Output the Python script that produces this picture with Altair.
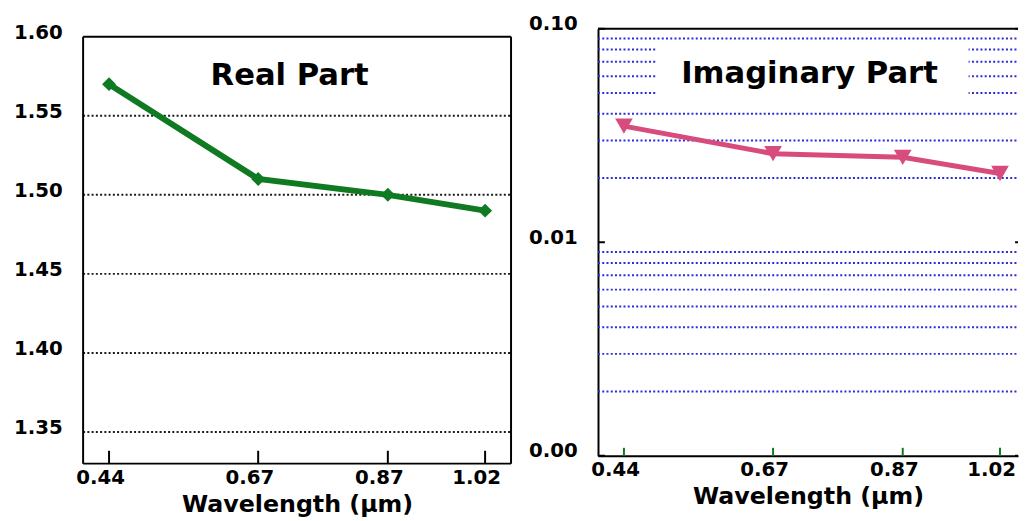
import altair as alt
import pandas as pd

# ---- data ----
wavelength = [0.44, 0.67, 0.87, 1.02]
real_part = [1.57, 1.51, 1.50, 1.49]
imag_part = [0.035, 0.026, 0.025, 0.021]
x_ticks = [0.44, 0.67, 0.87, 1.02]
real_y_ticks = [1.35, 1.40, 1.45, 1.50, 1.55, 1.60]
real_grid = [1.35, 1.40, 1.45, 1.50, 1.55]
real_top = [1.60]
imag_y_labels = [0.001, 0.01, 0.1]
imag_grid = [0.002, 0.003, 0.004, 0.005, 0.006, 0.007, 0.008, 0.009,
             0.02, 0.03, 0.04, 0.05, 0.06, 0.07, 0.08, 0.09]
titles = ["Real Part", "Imaginary Part"]
x_title = "Wavelength (μm)"

# ---- styling ----
FONT = "DejaVu Sans"
GREEN = "#0f7a22"
PINK = "#d84c7d"
BLUE = "#2b2bdc"
H_R = 432          # right plot height
OFF = 8            # left box sits 8px lower than the right one
H_L = H_R + OFF    # left panel height (box occupies bottom 432px)
W_L = 433
PX_PER_UNIT = 433 / 0.66
W_R = 425

df_real = pd.DataFrame({"w": wavelength, "v": real_part})
df_imag = pd.DataFrame({"w": wavelength, "v": imag_part})
df_xt = pd.DataFrame({"w": x_ticks})
df_rg = pd.DataFrame({"y": real_grid})
df_rt = pd.DataFrame({"y": real_top})
df_iyl = pd.DataFrame({"y": imag_y_labels})
df_ig = pd.DataFrame({"y": imag_grid})
df_one = pd.DataFrame({"k": [0]})

lab = dict(labelFont=FONT, labelFontSize=20, labelFontWeight="bold", labelColor="black")
ttl = dict(title=x_title, titleFont=FONT, titleFontSize=24, titleFontWeight="bold",
           titleColor="black", titlePadding=5)

# ---------- left panel ----------
xs_L = alt.Scale(domain=[0.40, 1.06], nice=False, zero=False)
ys_L = alt.Scale(domain=[1.33, 1.60 + OFF / 1600.0], nice=False, zero=False)
xax_L = alt.Axis(values=x_ticks, format=".2f", ticks=False, grid=False, domain=False,
                 labelOffset=-9, labelPadding=4, **lab, **ttl)
yax_L = alt.Axis(values=real_y_ticks, format=".2f", ticks=False, grid=False, domain=False,
                 labelPadding=21, labelOffset=-4, title="", **lab)

grid_L = alt.Chart(df_rg).mark_rule(color="#1a1a1a", strokeWidth=2, strokeDash=[2, 2.3]).encode(
    y=alt.Y("y:Q", scale=ys_L, axis=yax_L), x=alt.value(0), x2=alt.value(W_L))
top_L = alt.Chart(df_rt).mark_rule(color="black", strokeWidth=2).encode(
    y=alt.Y("y:Q", scale=ys_L, axis=yax_L), x=alt.value(0), x2=alt.value(W_L))
sides_L = alt.Chart(pd.DataFrame({"xp": [0, W_L]})).mark_rule(color="black", strokeWidth=2).encode(
    x=alt.X("xp:Q", scale=None), y=alt.value(OFF), y2=alt.value(H_L))
bottom_L = alt.Chart(df_one).mark_rule(color="black", strokeWidth=2).encode(
    y=alt.value(H_L), x=alt.value(0), x2=alt.value(W_L))
ticks_L = alt.Chart(df_xt).mark_rule(color="black", strokeWidth=2).encode(
    x=alt.X("w:Q", scale=xs_L, axis=xax_L), y=alt.value(H_L), y2=alt.value(H_L - 13))
line_L = alt.Chart(df_real).mark_line(
    color=GREEN, strokeWidth=6,
    point=alt.OverlayMarkDef(shape="diamond", size=200, filled=True, color=GREEN, opacity=1)
).encode(x=alt.X("w:Q", scale=xs_L, axis=xax_L), y=alt.Y("v:Q", scale=ys_L, axis=yax_L))
title_L = alt.Chart(pd.DataFrame({"t": [titles[0]]})).mark_text(
    font=FONT, fontSize=31, fontWeight="bold", color="black", align="center",
    baseline="alphabetic").encode(text="t:N", x=alt.value(209), y=alt.value(57))

left = alt.layer(grid_L, top_L, sides_L, bottom_L, ticks_L, line_L, title_L).properties(
    width=W_L, height=H_L)

# ---------- right panel ----------
xs_R = alt.Scale(domain=[0.40, 0.40 + W_R / PX_PER_UNIT], nice=False, zero=False)
ys_R = alt.Scale(type="log", domain=[0.001, 0.1], nice=False)
xax_R = alt.Axis(values=x_ticks, format=".2f", ticks=False, grid=False, domain=True,
                 domainColor="black", domainWidth=2,
                 labelOffset=-9, labelPadding=4, **lab, **ttl)
yax_R = alt.Axis(values=imag_y_labels, format=".2f", ticks=False, grid=False, domain=True,
                 domainColor="black", domainWidth=2,
                 labelPadding=21, labelOffset=-5, title="", **lab)

grid_R = alt.Chart(df_ig).mark_rule(color=BLUE, strokeWidth=2, strokeDash=[2, 2.3]).encode(
    y=alt.Y("y:Q", scale=ys_R, axis=yax_R), x=alt.value(0), x2=alt.value(W_R))
box_R = alt.Chart(df_one).mark_rect(fill="white").encode(
    x=alt.value(59), x2=alt.value(375), y=alt.value(13), y2=alt.value(75))
line_R = alt.Chart(df_imag).mark_line(
    color=PINK, strokeWidth=5,
    point=alt.OverlayMarkDef(shape="triangle-down", size=320, filled=True, color=PINK, opacity=1)
).encode(x=alt.X("w:Q", scale=xs_R, axis=xax_R), y=alt.Y("v:Q", scale=ys_R, axis=yax_R))
title_R = alt.Chart(pd.DataFrame({"t": [titles[1]]})).mark_text(
    font=FONT, fontSize=31, fontWeight="bold", color="black", align="center",
    baseline="alphabetic").encode(text="t:N", x=alt.value(214), y=alt.value(55))
xticks_R = alt.Chart(df_xt).mark_rule(color=GREEN, strokeWidth=2).encode(
    x=alt.X("w:Q", scale=xs_R, axis=xax_R), y=alt.value(H_R), y2=alt.value(H_R - 8))
yticks_R = alt.Chart(df_iyl).mark_rule(color="black", strokeWidth=2).encode(
    y=alt.Y("y:Q", scale=ys_R, axis=yax_R), x=alt.value(0), x2=alt.value(7))
yticks_R2 = alt.Chart(df_iyl).mark_rule(color="black", strokeWidth=2).encode(
    y=alt.Y("y:Q", scale=ys_R, axis=yax_R), x=alt.value(W_R - 3), x2=alt.value(W_R))
top_R = alt.Chart(df_one).mark_rule(color="black", strokeWidth=2).encode(
    y=alt.value(0), x=alt.value(0), x2=alt.value(W_R))

right = alt.layer(grid_R, box_R, line_R, title_R, xticks_R, yticks_R, yticks_R2, top_R).properties(
    width=W_R, height=H_R)

chart = alt.hconcat(left, right, spacing=15).properties(
    padding={"left": 5, "top": 2, "right": 0, "bottom": 0},
    background="white",
).configure_view(stroke="transparent")

chart.save("out.html", embed_options={"renderer": "svg", "actions": False})
